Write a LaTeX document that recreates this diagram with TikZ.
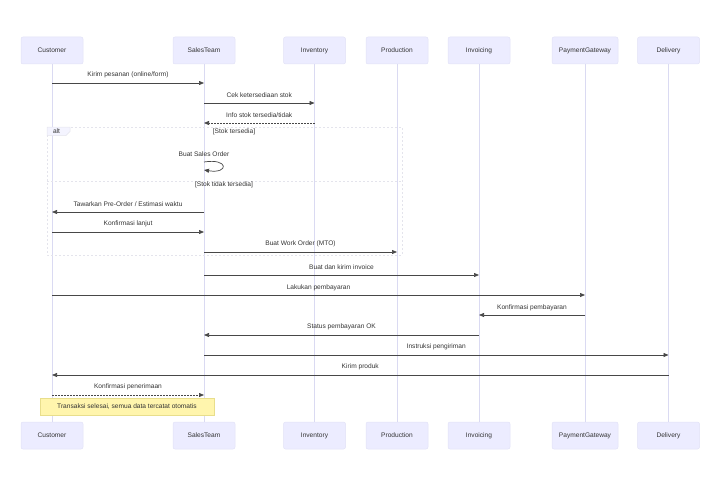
\documentclass[tikz,border=0pt]{standalone}
\usepackage{fontspec}
\setmainfont{Liberation Sans}
\usetikzlibrary{arrows.meta,calc}
\definecolor{actfill}{HTML}{ECECFF}
\definecolor{actdraw}{HTML}{E2E2F6}
\definecolor{lifec}{HTML}{DADAF2}
\definecolor{txt}{HTML}{333333}
\definecolor{framec}{HTML}{E4E4EC}
\definecolor{notefill}{HTML}{FFF5AD}
\definecolor{notedraw}{HTML}{E8DE8C}
\tikzset{
  actor/.style={fill=actfill,draw=actdraw,line width=0.5pt,rounded corners=2pt,minimum width=62pt,minimum height=27pt,inner sep=0pt,text=txt},
  life/.style={draw=lifec,line width=0.8pt},
  msg/.style={draw=txt!90,line width=0.7pt,-{Triangle[length=5pt,width=4pt]}},
  reply/.style={msg,dash pattern=on 1.5pt off 1.5pt},
  lbl/.style={text=txt,inner sep=0pt,anchor=center},
  frameline/.style={draw=framec,line width=0.8pt,dash pattern=on 2pt off 2pt},
}
\begin{document}
\begin{tikzpicture}[x=1pt,y=-1pt,font=\fontsize{6.6}{8}\selectfont]
\useasboundingbox (0,0) rectangle (720,487);
% top actors
\node[actor] (cT) at (52,50.5) {Customer};
\node[actor] (sT) at (204,50.5) {SalesTeam};
\node[actor] (iT) at (314.5,50.5) {Inventory};
\node[actor] (pT) at (397,50.5) {Production};
\node[actor] (vT) at (479,50.5) {Invoicing};
\node[actor,minimum width=66pt] (gT) at (585,50.5) {PaymentGateway};
\node[actor] (dT) at (668.5,50.5) {Delivery};
% bottom actors
\node[actor] (cB) at (52,435.5) {Customer};
\node[actor] (sB) at (204,435.5) {SalesTeam};
\node[actor] (iB) at (314.5,435.5) {Inventory};
\node[actor] (pB) at (397,435.5) {Production};
\node[actor] (vB) at (479,435.5) {Invoicing};
\node[actor,minimum width=66pt] (gB) at (585,435.5) {PaymentGateway};
\node[actor] (dB) at (668.5,435.5) {Delivery};
% lifelines
\foreach \a in {c,s,i,p,v,g,d}{\draw[life] (\a T.south) -- (\a B.north);}
% alt frame
\draw[frameline] (47,127) rectangle (402,255);
\draw[frameline] (47,181) -- (402,181);
\draw[fill=actfill!60!white,draw=framec,line width=0.5pt] (47,127) -- (70,127) -- (70,131.5) -- (66,135.5) -- (47,135.5) -- cycle;
\node[lbl] (altl) at (56.5,131.3) {alt};
\node[lbl] (cond1) at (234,132) {[Stok tersedia]};
\node[lbl] (cond2) at (224,185) {[Stok tidak tersedia]};
% message endpoints
\coordinate (m1a) at (cT |- 0,83);  \coordinate (m1b) at (sT |- 0,83);
\coordinate (m2a) at (sT |- 0,103); \coordinate (m2b) at (iT |- 0,103);
\coordinate (m3a) at (iT |- 0,123); \coordinate (m3b) at (sT |- 0,123);
\coordinate (m4a) at (sT |- 0,162); \coordinate (m4b) at (sT |- 0,170);
\coordinate (m5a) at (sT |- 0,212); \coordinate (m5b) at (cT |- 0,212);
\coordinate (m6a) at (cT |- 0,232); \coordinate (m6b) at (sT |- 0,232);
\coordinate (m7a) at (sT |- 0,252); \coordinate (m7b) at (pT |- 0,252);
\coordinate (m8a) at (sT |- 0,275); \coordinate (m8b) at (vT |- 0,275);
\coordinate (m9a) at (cT |- 0,295); \coordinate (m9b) at (gT |- 0,295);
\coordinate (m10a) at (gT |- 0,315); \coordinate (m10b) at (vT |- 0,315);
\coordinate (m11a) at (vT |- 0,335); \coordinate (m11b) at (sT |- 0,335);
\coordinate (m12a) at (sT |- 0,355); \coordinate (m12b) at (dT |- 0,355);
\coordinate (m13a) at (dT |- 0,375); \coordinate (m13b) at (cT |- 0,375);
\coordinate (m14a) at (cT |- 0,395); \coordinate (m14b) at (sT |- 0,395);
% messages
\draw[msg] (m1a) -- (m1b) node[lbl,midway,yshift=8pt] {Kirim pesanan (online/form)};
\draw[msg] (m2a) -- (m2b) node[lbl,midway,yshift=7.5pt] {Cek ketersediaan stok};
\draw[reply] (m3a) -- (m3b) node[lbl,midway,yshift=7.5pt] {Info stok tersedia/tidak};
\draw[msg] (m4a) .. controls ($(m4a)+(25,-4)$) and ($(m4b)+(25,4)$) .. (m4b);
\node[lbl] (m4l) at (204,154) {Buat Sales Order};
\draw[msg] (m5a) -- (m5b) node[lbl,midway,yshift=8pt] {Tawarkan Pre-Order / Estimasi waktu};
\draw[msg] (m6a) -- (m6b) node[lbl,midway,yshift=8pt] {Konfirmasi lanjut};
\draw[msg] (m7a) -- (m7b) node[lbl,midway,yshift=8pt] {Buat Work Order (MTO)};
\draw[msg] (m8a) -- (m8b) node[lbl,midway,yshift=7.5pt] {Buat dan kirim invoice};
\draw[msg] (m9a) -- (m9b) node[lbl,midway,yshift=7.5pt] {Lakukan pembayaran};
\draw[msg] (m10a) -- (m10b) node[lbl,midway,yshift=7.5pt] {Konfirmasi pembayaran};
\draw[msg] (m11a) -- (m11b) node[lbl,midway,yshift=8pt] {Status pembayaran OK};
\draw[msg] (m12a) -- (m12b) node[lbl,midway,yshift=8pt] {Instruksi pengiriman};
\draw[msg] (m13a) -- (m13b) node[lbl,midway,yshift=8pt] {Kirim produk};
\draw[reply] (m14a) -- (m14b) node[lbl,midway,yshift=8pt] {Konfirmasi penerimaan};
% note
\node[fill=notefill,draw=notedraw,line width=0.6pt,minimum width=174pt,minimum height=17pt,inner sep=0pt,text=txt] (note) at (127,406.5) {Transaksi selesai, semua data tercatat otomatis};
\end{tikzpicture}
\end{document}
